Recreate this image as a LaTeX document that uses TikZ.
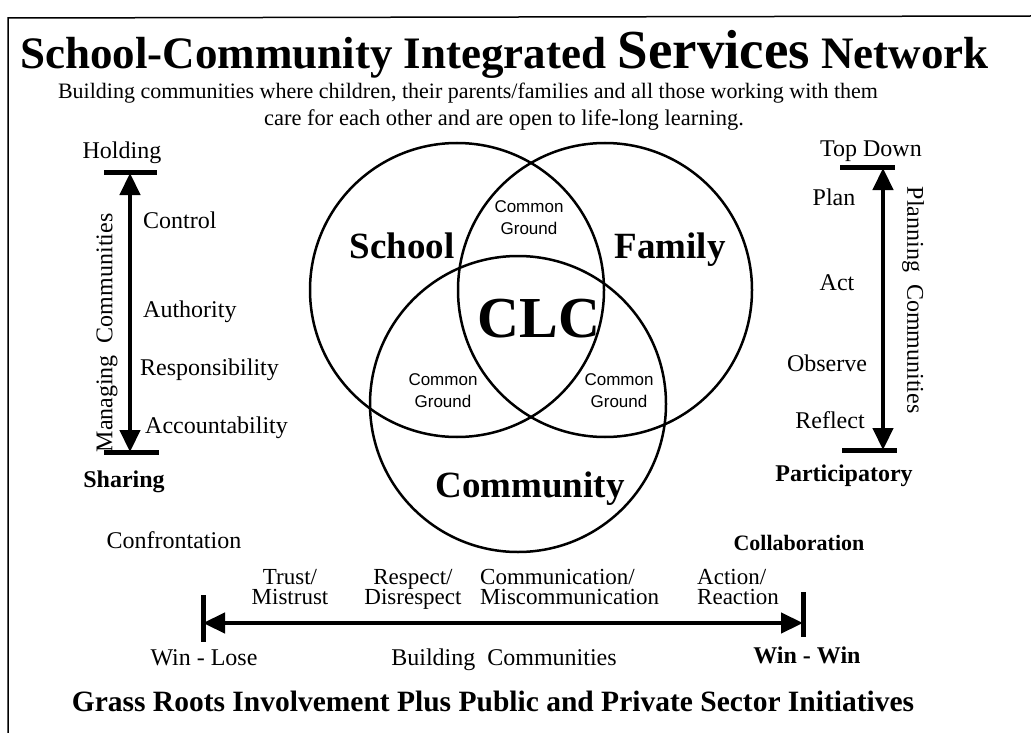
\documentclass[tikz,border=0pt]{standalone}
\usepackage{fontspec}
\setmainfont{Liberation Serif}
\newfontfamily\groundfont{Liberation Sans}
\usetikzlibrary{arrows.meta}
\newcommand{\pairfont}{\fontsize{23}{20}\selectfont\lineskiplimit=-50pt\relax}

\begin{document}
\begin{tikzpicture}[x=1pt,y=-1pt,
		lbl/.style={font=\fontsize{24}{20}\selectfont, inner sep=0pt, anchor=base},
		boldlbl/.style={lbl, font=\fontsize{24}{20}\selectfont\bfseries},
		pair/.style={lbl, align=center, font=\pairfont},
		vennlbl/.style={lbl, font=\fontsize{37}{40}\selectfont\bfseries},
		ground/.style={font=\groundfont\fontsize{17}{22}\selectfont, align=center, inner sep=0pt},
		venn/.style={line width=2.5pt},
		bar/.style={line width=5pt},
		scalearrow/.style={line width=4.5pt, {Triangle[length=22pt,width=20pt]}-{Triangle[length=22pt,width=20pt]}}]
					\useasboundingbox (0,0) rectangle (1031,733);
					\draw[line width=1.5pt] (8,733) -- (8,18) -- (1031,16);
					
					\node[anchor=base west, inner sep=0pt] (title) at (20,69) {\fontsize{45}{50}\selectfont\bfseries School-Community Integrated {\fontsize{55}{60}\selectfont Services} Network};
					\node[lbl, font=\fontsize{22}{26}\selectfont] (sub1) at (468,99) {Building communities where children, their parents/families and all those working with them};
					\node[lbl, font=\fontsize{22.5}{26}\selectfont] (sub2) at (504,126) {care for each other and are open to life-long learning.};
					
					\node[lbl] (holding) at (122,159) {Holding};
					\coordinate (holdtop) at (130,173);
					\coordinate (holdbot) at (130,452);
					\draw[bar] ([xshift=-26pt]holdtop) -- ([xshift=27pt]holdtop);
					\draw[bar] ([xshift=-26pt]holdbot) -- ([xshift=29pt]holdbot);
					\draw[scalearrow] (holdtop) -- (holdbot);
					\node[lbl, rotate=90, anchor=center] (managing) at (107,333) {Managing\ \ Communities};
					\node[lbl, anchor=base west] (control) at (143,228) {Control};
					\node[lbl, anchor=base west] (authority) at (143,317) {Authority};
					\node[lbl, anchor=base west] (respons) at (140,375) {Responsibility};
					\node[lbl, anchor=base west] (account) at (145,433) {Accountability};
					\node[boldlbl] (sharing) at (124,487) {Sharing};
					
					\node[lbl] (topdown) at (871,157) {Top Down};
					\coordinate (plantop) at (883,168);
					\coordinate (planbot) at (883,450);
					\draw[bar] ([xshift=-43pt]plantop) -- ([xshift=12pt]plantop);
					\draw[bar] ([xshift=-41pt]planbot) -- ([xshift=14pt]planbot);
					\draw[scalearrow] (plantop) -- (planbot);
					\node[lbl, rotate=-90, anchor=center] (planning) at (913,300) {Planning\ \ Communities};
					\node[lbl] (plan) at (834,205) {Plan};
					\node[lbl] (act) at (837,290) {Act};
					\node[lbl] (observe) at (827,371) {Observe};
					\node[lbl] (reflect) at (830,428) {Reflect};
					\node[boldlbl] (particip) at (844,481) {Participatory};
					
					\draw[venn] (457,290) circle[radius=147pt];
					\draw[venn] (605,290) circle[radius=147pt];
					\draw[venn] (518,404) circle[radius=148pt];
					\node[vennlbl] (school) at (402,258) {School};
					\node[vennlbl] (family) at (670,258) {Family};
					\node[vennlbl, font=\fontsize{58}{60}\selectfont\bfseries] (clc) at (539,337) {CLC};
					\node[vennlbl] (community) at (530,497) {Community};
					\node[ground] (cgtop) at (529,218) {Common\\Ground};
					\node[ground] (cgleft) at (443,391) {Common\\Ground};
					\node[ground] (cgright) at (619,391) {Common\\Ground};
					
					\node[lbl] (confront) at (174,548) {Confrontation};
					\node[boldlbl, font=\fontsize{22}{20}\selectfont\bfseries] (collab) at (799,550) {Collaboration};
					\node[pair] (trust) at (290,604) {Trust/\\Mistrust};
					\node[pair] (respect) at (413,604) {Respect/\\Disrespect};
					\node[pair, align=left, anchor=base west] (commun) at (480,604) {Communication/\\Miscommunication};
					\node[pair, align=left, anchor=base west] (action) at (697,604) {Action/\\Reaction};
					
					\coordinate (loseend) at (203,623);
					\coordinate (winend) at (803,623);
					\draw[bar] ([yshift=28pt]loseend) -- ([yshift=-19pt]loseend);
					\draw[bar] ([yshift=31pt]winend) -- ([yshift=-14pt]winend);
					\draw[scalearrow] (loseend) -- (winend);
					
					\node[lbl] (winlose) at (204,665) {Win - Lose};
					\node[lbl] (building) at (504,665) {Building\ \ Communities};
					\node[boldlbl] (winwin) at (807,663) {Win - Win};
					\node[lbl, font=\fontsize{29.5}{32}\selectfont\bfseries] (grass) at (493,711) {Grass Roots Involvement Plus Public and Private Sector Initiatives};
\end{tikzpicture}
\end{document}
